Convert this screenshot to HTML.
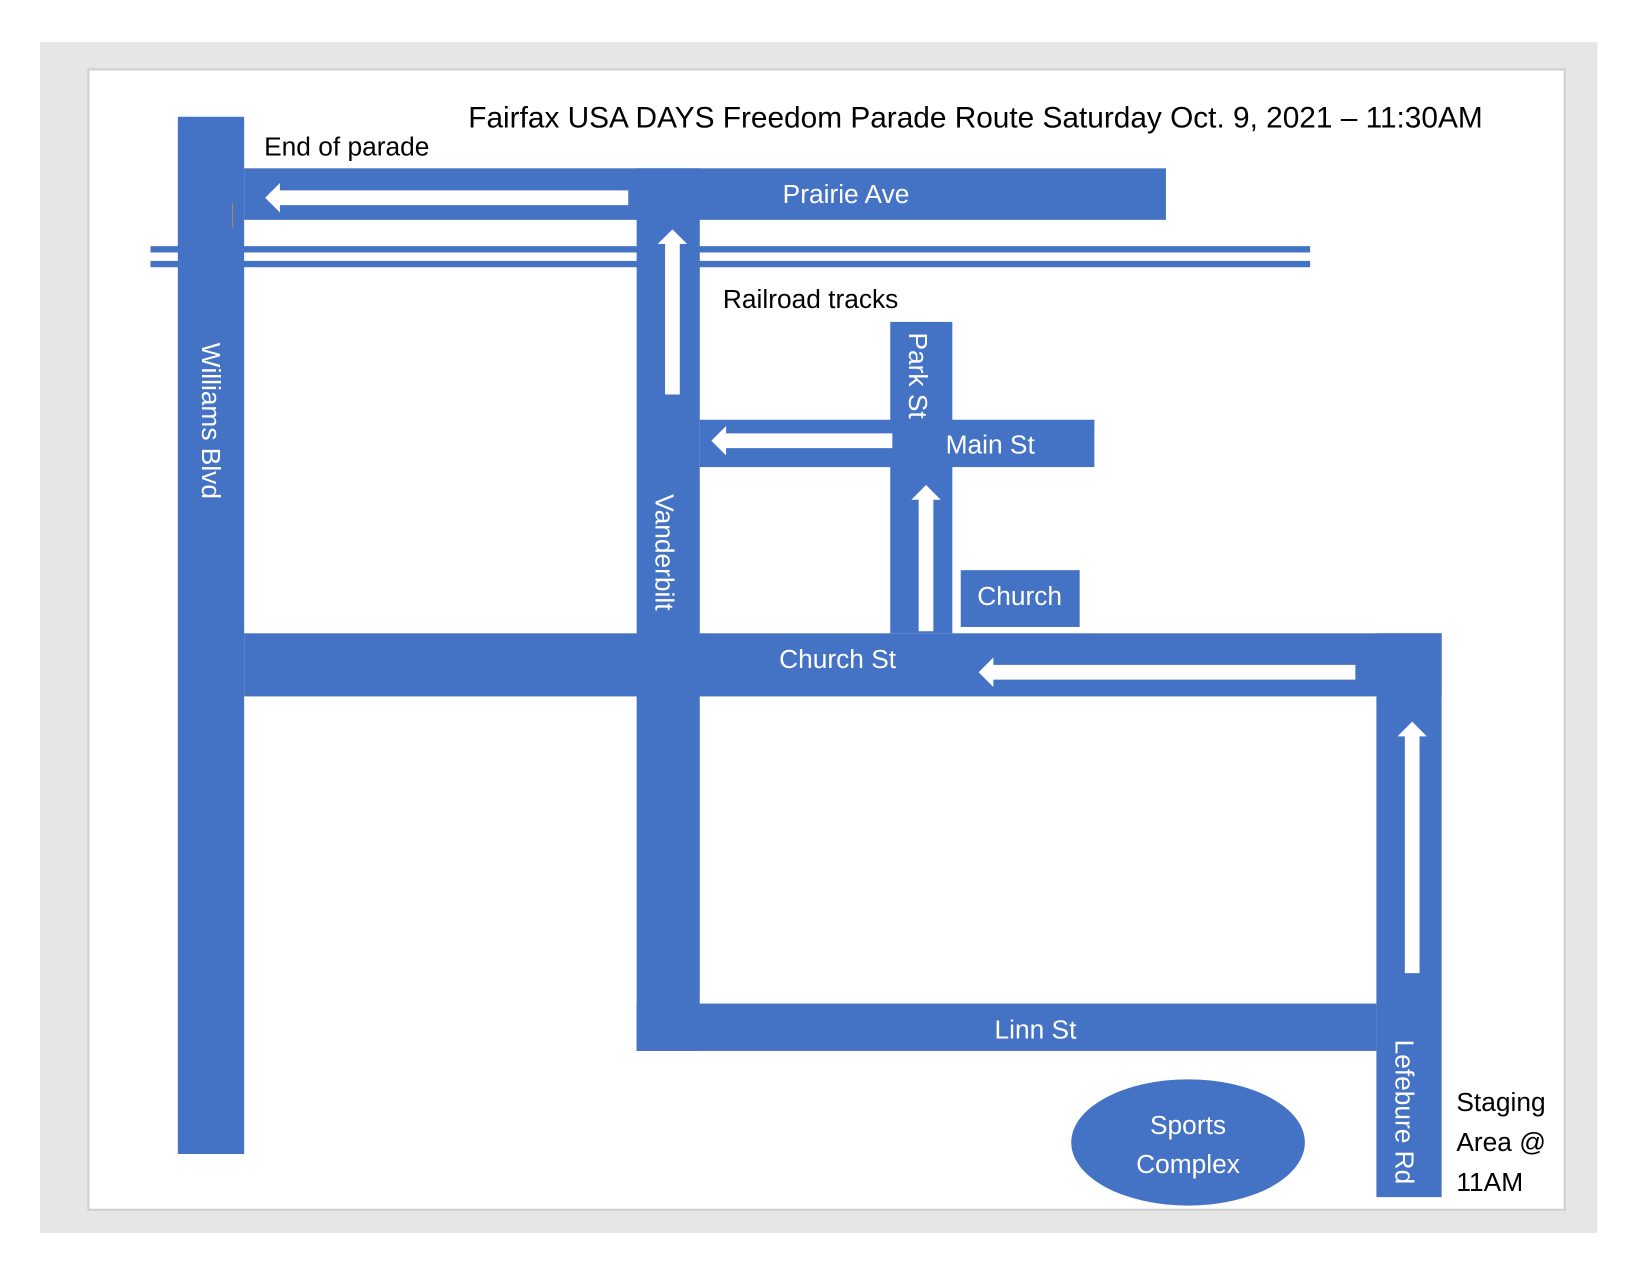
<!DOCTYPE html>
<html><head><meta charset="utf-8"><style>
html,body{margin:0;padding:0;background:#fff;}
svg{display:block;}
text{font-family:"Liberation Sans",sans-serif;}
</style></head><body>
<svg width="1650" height="1275" viewBox="0 0 1568 1212" preserveAspectRatio="none" xmlns="http://www.w3.org/2000/svg">
<rect x="0" y="0" width="1568" height="1212" fill="#fff"/>
<rect x="38" y="40" width="1480" height="1132" fill="#e6e6e6"/>
<rect x="84" y="66" width="1403" height="1084" fill="#fff" stroke="#d0d0d0" stroke-width="2"/>
<g fill="#4472c4">
<rect x="143" y="234" width="1102" height="6"/>
<rect x="143" y="248" width="1102" height="6"/>
<rect x="169" y="111" width="63" height="986"/>
<rect x="232" y="160" width="876" height="49"/>
<rect x="605" y="160" width="60" height="839"/>
<rect x="232" y="602" width="1138" height="60"/>
<rect x="1308" y="602" width="62" height="536"/>
<rect x="605" y="954" width="703" height="45"/>
<rect x="846" y="306" width="59" height="296"/>
<rect x="665" y="399" width="375" height="45"/>
<rect x="913" y="542" width="113" height="54"/>
<ellipse cx="1129" cy="1086" rx="111" ry="60"/>
</g>
<g fill="#fff">
<polygon points="252,188 266,174 266,181 597,181 597,195 266,195 266,202"/>
<polygon points="639,218 653,232 646,232 646,375 632,375 632,232 625,232"/>
<polygon points="676,419 690,405 690,412 848,412 848,426 690,426 690,433"/>
<polygon points="880,461 894,475 887,475 887,600 873,600 873,475 866,475"/>
<polygon points="930,639 944,625 944,632 1288,632 1288,646 944,646 944,653"/>
<polygon points="1342,686 1356,700 1349,700 1349,925 1335,925 1335,700 1328,700"/>
</g>
<line x1="221" y1="193" x2="221" y2="216" stroke="#b08a50" stroke-width="1"/>
<g font-size="25" fill="#000">
<text x="445" y="121" font-size="28" textLength="964" lengthAdjust="spacingAndGlyphs">Fairfax USA DAYS Freedom Parade Route Saturday Oct. 9, 2021 – 11:30AM</text>
<text x="251" y="148" font-size="25">End of parade</text>
<text x="687" y="293" font-size="25">Railroad tracks</text>
<text x="1384" y="1056" font-size="25">Staging</text>
<text x="1384" y="1094" font-size="25">Area @</text>
<text x="1384" y="1132" font-size="25">11AM</text>
</g>
<g font-size="25" fill="#fff">
<text x="804" y="193" text-anchor="middle">Prairie Ave</text>
<text x="941" y="431" text-anchor="middle">Main St</text>
<text x="969" y="575" text-anchor="middle">Church</text>
<text x="796" y="635" text-anchor="middle">Church St</text>
<text x="984" y="987" text-anchor="middle">Linn St</text>
<text x="1129" y="1078" text-anchor="middle">Sports</text>
<text x="1129" y="1115" text-anchor="middle">Complex</text>
<text transform="translate(192,400) rotate(90)" text-anchor="middle">Williams Blvd</text>
<text transform="translate(623,525) rotate(90)" text-anchor="middle">Vanderbilt</text>
<text transform="translate(864,357) rotate(90)" text-anchor="middle">Park St</text>
<text transform="translate(1326,1057) rotate(90)" text-anchor="middle">Lefebure Rd</text>
</g>
</svg>
</body></html>
